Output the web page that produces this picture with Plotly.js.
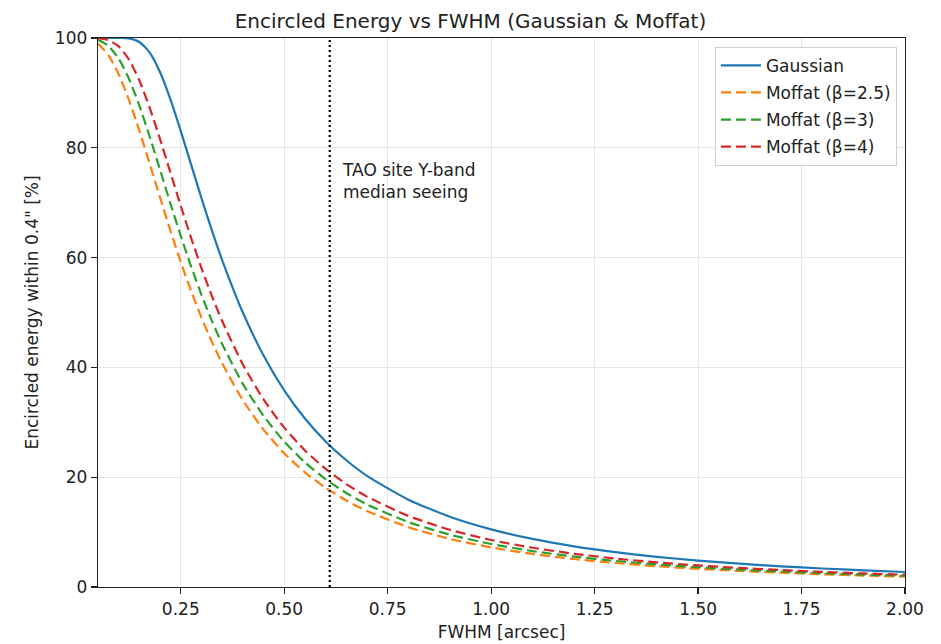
<!DOCTYPE html>
<html>
<head>
<meta charset="utf-8">
<script src="https://cdn.plot.ly/plotly-3.0.1.min.js"></script>
<style>html,body{margin:0;padding:0;background:#fff;}#chart{width:941px;height:644px;}</style>
</head>
<body>
<div id="chart"></div>
<script>
// FWHM grid [arcsec]
const fwhm = [0.05,0.075,0.1,0.125,0.15,0.175,0.2,0.225,0.25,0.275,0.3,0.325,0.35,0.4,0.45,0.5,0.55,0.6,0.65,0.7,0.8,0.9,1.0,1.1,1.2,1.3,1.4,1.5,1.6,1.7,1.8,1.9,2.0];
// Encircled energy within 0.4" [%]
const eeGaussian = [100.0,100.0,100.0,99.92,99.28,97.33,93.75,88.82,83.04,76.93,70.84,65.01,59.56,50.00,42.17,35.83,30.69,26.51,23.09,20.25,15.91,12.80,10.50,8.76,7.41,6.35,5.50,4.81,4.24,3.76,3.37,3.03,2.73];
const eeMoffat25 = [98.99,96.88,93.38,88.67,83.10,77.07,70.92,64.90,59.20,53.91,49.07,44.68,40.73,34.02,28.66,24.35,20.88,18.06,15.75,13.83,10.89,8.77,7.21,6.02,5.10,4.37,3.79,3.31,2.92,2.60,2.32,2.09,1.89];
const eeMoffat3 = [99.68,98.58,96.24,92.54,87.67,82.01,75.96,69.86,63.95,58.37,53.22,48.52,44.27,37.00,31.17,26.49,22.71,19.64,17.12,15.03,11.83,9.53,7.83,6.54,5.54,4.75,4.11,3.60,3.17,2.82,2.52,2.26,2.05];
const eeMoffat4 = [99.96,99.62,98.47,96.05,92.25,87.28,81.56,75.49,69.42,63.58,58.10,53.05,48.45,40.54,34.16,29.03,24.88,21.51,18.75,16.46,12.95,10.42,8.56,7.15,6.05,5.19,4.49,3.93,3.47,3.08,2.75,2.47,2.24];
const seriesNames = ["Gaussian","Moffat (β=2.5)","Moffat (β=3)","Moffat (β=4)"];
const seeingFWHM = 0.61;
const seeingLabel = "TAO site Y-band<br>median seeing";
const xTicks = [0.25,0.5,0.75,1.0,1.25,1.5,1.75,2.0];
const yTicks = [0,20,40,60,80,100];

const FONT = "DejaVu Sans, Liberation Sans, sans-serif";
const colors = ["#1f77b4","#ff7f0e","#2ca02c","#d62728"];
const series = [eeGaussian, eeMoffat25, eeMoffat3, eeMoffat4];

const traces = series.map((ys, i) => ({
  x: fwhm, y: ys, type: "scatter", mode: "lines", name: seriesNames[i],
  legendgroup: "g" + i,
  line: {color: colors[i], width: 2.2, shape: "spline", smoothing: 0.6, dash: i === 0 ? "solid" : "10px,5px"}
}));

const layout = {
  width: 941, height: 644,
  margin: {l: 98, r: 36, t: 38, b: 57},
  paper_bgcolor: "#fff", plot_bgcolor: "#fff",
  font: {family: FONT, size: 17, color: "#222"},
  title: {text: "Encircled Energy vs FWHM (Gaussian & Moffat)", font: {family: FONT, size: 20, color: "#222"}, x: 0.5, xanchor: "center", y: 0.968, yanchor: "middle"},
  xaxis: {
    range: [0.05, 2.0], tickvals: xTicks, tickformat: ".2f",
    showline: true, mirror: true, linecolor: "#222", linewidth: 1.3,
    ticks: "outside", ticklen: 6, tickcolor: "#222", tickwidth: 1.3,
    showgrid: true, gridcolor: "#e6e6e6", gridwidth: 1, zeroline: false,
    title: {text: "FWHM [arcsec]", font: {family: FONT, size: 17}, standoff: 8}
  },
  yaxis: {
    range: [0, 100], tickvals: yTicks,
    showline: true, mirror: true, linecolor: "#222", linewidth: 1.3,
    ticks: "outside", ticklen: 6, tickcolor: "#222", tickwidth: 1.3,
    showgrid: true, gridcolor: "#e6e6e6", gridwidth: 1, zeroline: false,
    title: {text: "Encircled energy within 0.4\" [%]", font: {family: FONT, size: 17}, standoff: 12}
  },
  legend: {
    x: 0.99, xanchor: "right", y: 0.984, yanchor: "top",
    bgcolor: "rgba(255,255,255,0.85)", bordercolor: "#d0d0d0", borderwidth: 1,
    font: {family: FONT, size: 17, color: "#222"}, tracegroupgap: 2, itemwidth: 40
  },
  shapes: [{
    type: "line", xref: "x", yref: "y", x0: seeingFWHM, x1: seeingFWHM, y0: 0, y1: 100,
    line: {color: "#000", width: 2.2, dash: "2px,3px"}
  }],
  annotations: [{
    xref: "x", yref: "y", x: seeingFWHM, y: 74, xanchor: "left", yanchor: "middle",
    xshift: 10, align: "left", showarrow: false, text: seeingLabel,
    font: {family: FONT, size: 17, color: "#222"}
  }]
};

Plotly.newPlot("chart", traces, layout, {displayModeBar: false, staticPlot: true});
</script>
</body>
</html>
